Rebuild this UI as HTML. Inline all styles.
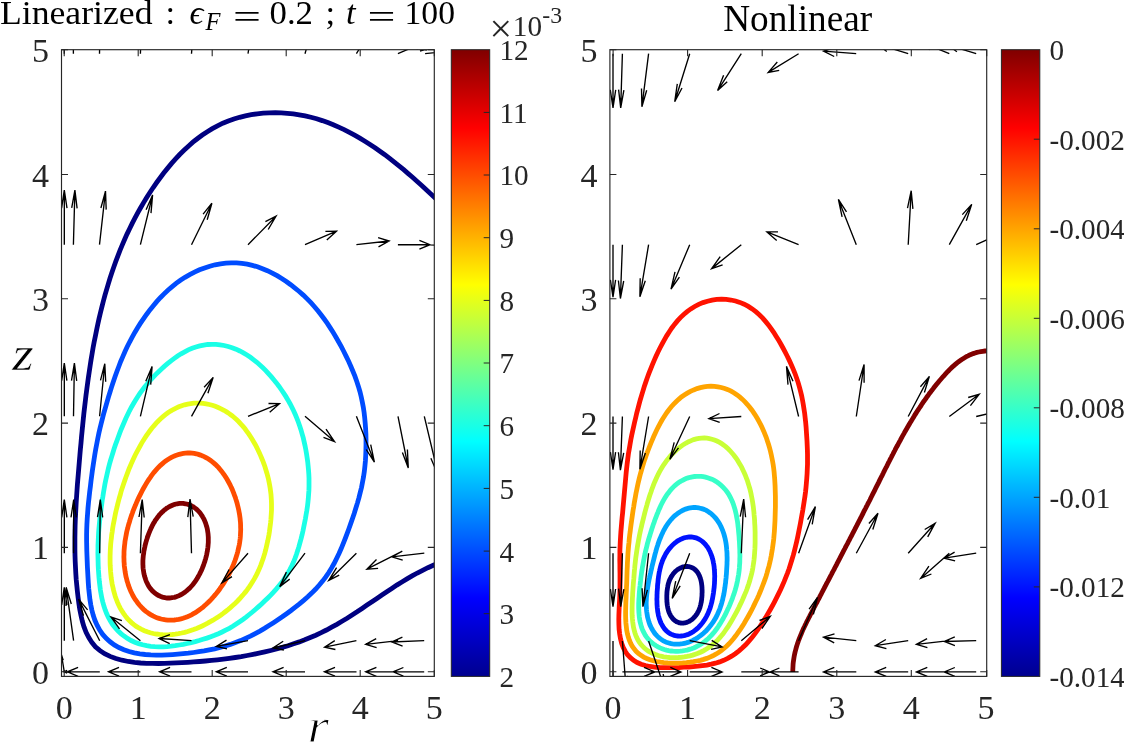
<!DOCTYPE html>
<html><head><meta charset="utf-8"><title>Linearized vs Nonlinear</title>
<style>html,body{margin:0;padding:0;background:#fff}svg{display:block}</style></head>
<body>
<svg width="1124" height="743" viewBox="0 0 1124 743">
<defs>
<linearGradient id="jet" x1="0" y1="1" x2="0" y2="0"><stop offset="0" stop-color="#00008f"/><stop offset="0.125" stop-color="#0000ff"/><stop offset="0.375" stop-color="#00ffff"/><stop offset="0.625" stop-color="#ffff00"/><stop offset="0.875" stop-color="#ff0000"/><stop offset="1" stop-color="#800000"/></linearGradient>
<clipPath id="cl"><rect x="61.5" y="49.7" width="372.8" height="626.7"/></clipPath>
<clipPath id="cr"><rect x="609.9" y="49.7" width="376.8" height="626.7"/></clipPath>
</defs>
<rect width="1124" height="743" fill="#fff"/>
<g clip-path="url(#cl)" fill="none">
<path d="M438.8,201.4 L434.6,197.5 L430.3,193.5 L426.0,189.5 L421.7,185.5 L417.2,181.5 L412.8,177.5 L408.2,173.6 L403.7,169.7 L399.0,165.9 L394.3,162.1 L389.6,158.4 L384.8,154.7 L379.9,151.2 L375.0,147.7 L370.0,144.4 L364.9,141.2 L359.8,138.1 L354.6,135.1 L349.4,132.3 L344.1,129.6 L338.7,127.1 L333.3,124.7 L327.8,122.6 L322.2,120.6 L316.6,118.8 L310.9,117.3 L305.1,115.9 L299.2,114.8 L293.3,113.9 L287.3,113.3 L281.3,112.9 L275.3,112.7 L269.2,112.8 L263.2,113.2 L257.2,113.8 L251.3,114.7 L245.4,115.9 L239.6,117.3 L233.9,119.0 L228.3,121.0 L222.8,123.2 L217.5,125.8 L212.3,128.6 L207.3,131.7 L202.3,135.0 L197.6,138.5 L192.9,142.2 L188.4,146.2 L184.0,150.3 L179.7,154.5 L175.6,158.9 L171.6,163.4 L167.7,168.1 L163.9,172.8 L160.2,177.7 L156.7,182.5 L153.2,187.5 L149.9,192.5 L146.7,197.5 L143.6,202.6 L140.6,207.8 L137.7,212.9 L134.9,218.2 L132.2,223.4 L129.6,228.8 L127.0,234.1 L124.6,239.5 L122.3,244.9 L120.0,250.4 L117.9,255.9 L115.8,261.4 L113.8,267.0 L111.9,272.6 L110.0,278.2 L108.3,283.9 L106.6,289.6 L104.9,295.3 L103.4,301.0 L101.9,306.8 L100.5,312.5 L99.1,318.4 L97.8,324.2 L96.6,330.0 L95.4,335.9 L94.2,341.8 L93.1,347.6 L92.1,353.6 L91.1,359.5 L90.2,365.4 L89.3,371.3 L88.4,377.3 L87.6,383.3 L86.8,389.2 L86.0,395.2 L85.3,401.2 L84.6,407.1 L83.9,413.1 L83.3,419.1 L82.7,425.1 L82.1,431.0 L81.5,437.0 L81.0,443.0 L80.4,448.9 L79.9,454.9 L79.4,460.8 L78.9,466.8 L78.4,472.7 L77.9,478.6 L77.4,484.5 L77.0,490.4 L76.6,496.4 L76.2,502.3 L75.9,508.2 L75.6,514.1 L75.3,520.0 L75.1,525.9 L75.0,531.8 L74.9,537.7 L74.9,543.7 L74.9,549.6 L75.0,555.5 L75.2,561.5 L75.5,567.5 L75.8,573.4 L76.2,579.4 L76.8,585.4 L77.4,591.5 L78.1,597.5 L78.9,603.6 L79.8,609.7 L81.0,615.6 L82.4,621.5 L84.1,627.1 L86.2,632.6 L88.8,637.6 L91.8,642.4 L95.4,646.7 L99.7,650.4 L104.6,653.7 L110.1,656.4 L115.9,658.5 L122.0,660.2 L128.2,661.5 L134.4,662.4 L140.6,663.0 L146.6,663.3 L152.6,663.4 L158.5,663.5 L164.4,663.4 L170.2,663.2 L176.0,662.9 L181.9,662.6 L187.8,662.3 L193.7,661.9 L199.6,661.5 L205.5,661.0 L211.5,660.4 L217.4,659.8 L223.4,659.1 L229.3,658.3 L235.3,657.5 L241.2,656.6 L247.2,655.5 L253.1,654.4 L259.0,653.2 L264.8,651.9 L270.7,650.5 L276.5,649.0 L282.2,647.4 L288.0,645.7 L293.6,643.8 L299.3,641.9 L304.8,639.8 L310.3,637.5 L315.8,635.2 L321.2,632.7 L326.5,630.0 L331.7,627.2 L336.9,624.3 L342.0,621.3 L347.1,618.2 L352.1,615.0 L357.1,611.8 L362.1,608.4 L367.0,605.1 L372.0,601.7 L376.9,598.4 L381.9,595.0 L386.8,591.7 L391.8,588.4 L396.8,585.1 L401.9,582.0 L407.0,578.9 L412.1,575.9 L417.3,573.0 L422.6,570.3 L427.9,567.7 L433.3,565.2 L438.9,563.0" stroke="#000080" stroke-width="4.8"/>
<path d="M231.2,262.9 L236.6,262.9 L241.9,263.4 L247.2,264.2 L252.4,265.4 L257.5,266.8 L262.5,268.7 L267.4,270.7 L272.3,273.1 L277.1,275.7 L281.7,278.5 L286.3,281.5 L290.7,284.7 L295.0,288.1 L299.2,291.5 L303.3,295.1 L307.2,298.9 L310.9,302.7 L314.5,306.7 L317.9,310.8 L321.2,315.0 L324.4,319.3 L327.5,323.6 L330.4,328.1 L333.2,332.6 L336.0,337.3 L338.7,342.0 L341.3,346.7 L343.8,351.5 L346.2,356.4 L348.6,361.3 L350.8,366.2 L352.9,371.2 L354.9,376.2 L356.7,381.3 L358.4,386.4 L359.9,391.5 L361.2,396.7 L362.3,401.9 L363.3,407.2 L364.1,412.5 L364.7,417.8 L365.2,423.2 L365.6,428.6 L365.9,434.0 L366.0,439.4 L366.0,444.8 L365.9,450.2 L365.7,455.6 L365.4,461.0 L364.9,466.3 L364.3,471.7 L363.5,477.0 L362.5,482.2 L361.5,487.5 L360.2,492.7 L358.9,497.9 L357.4,503.1 L355.8,508.2 L354.2,513.4 L352.5,518.5 L350.7,523.6 L348.9,528.7 L347.0,533.8 L345.1,538.8 L343.1,543.8 L341.1,548.8 L338.9,553.7 L336.6,558.5 L334.2,563.3 L331.6,567.9 L328.8,572.5 L325.8,576.9 L322.6,581.1 L319.1,585.3 L315.5,589.3 L311.7,593.1 L307.8,596.8 L303.7,600.4 L299.5,603.9 L295.3,607.2 L291.0,610.5 L286.6,613.7 L282.3,616.8 L277.9,619.8 L273.5,622.7 L269.0,625.6 L264.5,628.4 L259.9,631.1 L255.2,633.6 L250.4,636.1 L245.5,638.4 L240.6,640.6 L235.5,642.5 L230.3,644.4 L225.1,646.0 L219.9,647.5 L214.6,648.8 L209.3,649.9 L204.1,650.9 L198.8,651.7 L193.6,652.5 L188.3,653.2 L183.1,653.7 L177.8,654.2 L172.5,654.6 L167.2,654.9 L161.8,655.1 L156.3,655.1 L150.8,654.9 L145.3,654.5 L139.8,653.8 L134.3,652.8 L129.0,651.5 L123.9,649.7 L118.9,647.5 L114.3,644.9 L110.1,641.8 L106.2,638.3 L102.7,634.4 L99.7,630.1 L97.2,625.5 L95.0,620.6 L93.3,615.5 L91.9,610.3 L90.8,604.9 L89.9,599.4 L89.3,593.9 L88.7,588.5 L88.3,583.0 L88.0,577.6 L87.7,572.2 L87.4,566.9 L87.2,561.6 L87.0,556.3 L86.8,551.0 L86.7,545.7 L86.6,540.4 L86.6,535.0 L86.7,529.7 L86.9,524.3 L87.2,518.9 L87.6,513.4 L88.0,508.0 L88.5,502.6 L89.1,497.2 L89.7,491.8 L90.4,486.4 L91.0,481.1 L91.7,475.7 L92.4,470.4 L93.2,465.2 L94.0,459.9 L94.8,454.7 L95.7,449.4 L96.7,444.1 L97.7,438.9 L98.8,433.6 L100.0,428.3 L101.3,423.0 L102.6,417.8 L104.0,412.5 L105.5,407.3 L107.0,402.1 L108.5,396.9 L110.1,391.7 L111.7,386.6 L113.4,381.5 L115.1,376.5 L116.9,371.5 L118.8,366.5 L120.7,361.5 L122.8,356.6 L124.9,351.7 L127.2,346.8 L129.6,342.0 L132.2,337.2 L134.8,332.4 L137.6,327.7 L140.5,323.1 L143.6,318.6 L146.7,314.2 L149.9,309.9 L153.3,305.7 L156.7,301.6 L160.3,297.7 L164.1,293.9 L167.9,290.2 L171.9,286.8 L176.1,283.4 L180.4,280.3 L185.0,277.3 L189.7,274.6 L194.5,272.1 L199.5,269.8 L204.6,267.9 L209.8,266.2 L215.1,264.8 L220.5,263.8 L225.9,263.2Z" stroke="#004cff" stroke-width="4.8"/>
<path d="M211.9,344.3 L216.0,344.4 L220.1,344.8 L224.1,345.5 L228.2,346.5 L232.1,347.7 L236.0,349.2 L239.8,351.0 L243.4,352.9 L247.0,355.0 L250.4,357.3 L253.7,359.8 L256.9,362.3 L259.9,365.0 L262.9,367.8 L265.8,370.6 L268.5,373.6 L271.2,376.6 L273.8,379.7 L276.4,382.9 L278.9,386.2 L281.2,389.5 L283.5,392.9 L285.8,396.4 L287.9,399.9 L289.9,403.5 L291.8,407.2 L293.6,410.8 L295.3,414.6 L296.9,418.3 L298.4,422.2 L299.7,426.0 L301.0,429.9 L302.1,433.8 L303.2,437.7 L304.1,441.6 L305.0,445.6 L305.8,449.6 L306.5,453.6 L307.1,457.7 L307.7,461.8 L308.1,465.8 L308.5,469.9 L308.8,474.0 L309.0,478.2 L309.0,482.3 L309.0,486.4 L308.9,490.4 L308.6,494.5 L308.3,498.6 L307.9,502.6 L307.4,506.7 L306.8,510.7 L306.1,514.7 L305.4,518.7 L304.6,522.7 L303.8,526.7 L303.0,530.7 L302.1,534.7 L301.1,538.7 L300.0,542.7 L298.9,546.7 L297.7,550.6 L296.4,554.5 L295.0,558.3 L293.5,562.1 L291.8,565.8 L290.0,569.4 L288.0,573.0 L285.9,576.4 L283.6,579.8 L281.2,583.1 L278.6,586.3 L276.0,589.4 L273.3,592.4 L270.5,595.3 L267.6,598.2 L264.6,601.1 L261.6,603.9 L258.6,606.6 L255.6,609.3 L252.4,612.0 L249.3,614.5 L246.1,617.1 L242.9,619.5 L239.6,621.8 L236.2,624.1 L232.8,626.3 L229.3,628.3 L225.7,630.2 L222.1,632.0 L218.4,633.7 L214.6,635.3 L210.8,636.7 L206.9,638.1 L203.0,639.3 L199.1,640.5 L195.2,641.6 L191.2,642.6 L187.2,643.5 L183.3,644.3 L179.3,645.0 L175.2,645.7 L171.2,646.2 L167.1,646.6 L163.0,646.8 L158.9,646.8 L154.8,646.7 L150.7,646.3 L146.7,645.7 L142.6,644.8 L138.7,643.6 L134.8,642.2 L131.1,640.5 L127.5,638.4 L124.1,636.1 L120.9,633.6 L117.9,630.7 L115.1,627.7 L112.6,624.5 L110.4,621.0 L108.4,617.5 L106.7,613.8 L105.2,610.0 L103.9,606.1 L102.8,602.1 L101.8,598.1 L101.1,594.1 L100.4,590.1 L99.9,586.0 L99.4,581.9 L99.0,577.8 L98.7,573.8 L98.4,569.7 L98.2,565.6 L98.1,561.5 L98.0,557.4 L97.9,553.3 L98.0,549.3 L98.0,545.2 L98.2,541.1 L98.4,537.0 L98.6,533.0 L98.9,528.9 L99.3,524.8 L99.7,520.8 L100.1,516.7 L100.6,512.6 L101.1,508.6 L101.7,504.5 L102.2,500.4 L102.9,496.4 L103.5,492.3 L104.2,488.3 L104.9,484.3 L105.7,480.3 L106.6,476.3 L107.5,472.3 L108.4,468.3 L109.4,464.4 L110.5,460.5 L111.7,456.6 L112.9,452.7 L114.1,448.8 L115.4,444.9 L116.8,441.1 L118.2,437.2 L119.6,433.4 L121.1,429.5 L122.7,425.7 L124.3,422.0 L125.9,418.2 L127.7,414.5 L129.5,410.8 L131.4,407.2 L133.4,403.7 L135.5,400.2 L137.7,396.7 L139.9,393.4 L142.3,390.1 L144.8,386.8 L147.4,383.7 L150.0,380.6 L152.8,377.6 L155.6,374.6 L158.6,371.7 L161.5,368.9 L164.6,366.1 L167.8,363.4 L171.0,360.8 L174.3,358.4 L177.6,356.0 L181.1,353.8 L184.7,351.8 L188.3,349.9 L192.1,348.3 L195.9,347.0 L199.8,345.9 L203.8,345.1 L207.8,344.5Z" stroke="#1affe6" stroke-width="4.8"/>
<path d="M196.9,403.1 L200.0,403.2 L203.1,403.4 L206.2,403.8 L209.3,404.5 L212.3,405.3 L215.3,406.3 L218.2,407.5 L221.1,408.8 L223.9,410.3 L226.6,411.9 L229.2,413.6 L231.7,415.5 L234.2,417.5 L236.5,419.6 L238.8,421.8 L240.9,424.1 L243.0,426.4 L245.0,428.8 L246.8,431.3 L248.7,433.9 L250.4,436.5 L252.0,439.1 L253.6,441.8 L255.2,444.5 L256.6,447.2 L258.0,450.0 L259.3,452.8 L260.6,455.6 L261.8,458.5 L263.0,461.4 L264.1,464.3 L265.1,467.2 L266.0,470.2 L266.9,473.2 L267.7,476.2 L268.5,479.2 L269.1,482.2 L269.7,485.3 L270.2,488.4 L270.6,491.4 L271.0,494.5 L271.2,497.7 L271.4,500.8 L271.5,503.9 L271.5,507.0 L271.5,510.1 L271.3,513.3 L271.1,516.4 L270.9,519.5 L270.6,522.6 L270.2,525.7 L269.8,528.8 L269.4,531.9 L268.9,535.0 L268.3,538.1 L267.7,541.1 L267.0,544.1 L266.3,547.2 L265.6,550.2 L264.8,553.2 L263.9,556.1 L263.0,559.1 L261.9,562.0 L260.9,564.9 L259.7,567.8 L258.5,570.6 L257.2,573.4 L255.8,576.2 L254.3,578.9 L252.7,581.6 L251.0,584.2 L249.3,586.8 L247.5,589.4 L245.6,591.9 L243.6,594.3 L241.5,596.7 L239.4,599.0 L237.3,601.2 L235.0,603.4 L232.7,605.5 L230.4,607.6 L228.0,609.6 L225.6,611.5 L223.2,613.4 L220.7,615.2 L218.1,616.9 L215.6,618.6 L213.0,620.2 L210.3,621.7 L207.7,623.2 L204.9,624.6 L202.2,626.0 L199.4,627.2 L196.5,628.4 L193.6,629.5 L190.7,630.5 L187.7,631.5 L184.7,632.3 L181.6,633.0 L178.5,633.6 L175.3,634.1 L172.2,634.5 L169.0,634.7 L165.8,634.8 L162.7,634.7 L159.5,634.4 L156.4,634.0 L153.3,633.5 L150.3,632.7 L147.3,631.8 L144.4,630.7 L141.6,629.4 L138.9,628.0 L136.3,626.4 L133.9,624.6 L131.5,622.6 L129.3,620.5 L127.2,618.3 L125.3,615.9 L123.5,613.4 L121.8,610.8 L120.2,608.1 L118.8,605.3 L117.5,602.4 L116.4,599.5 L115.3,596.5 L114.4,593.4 L113.6,590.4 L112.9,587.3 L112.2,584.2 L111.7,581.0 L111.2,577.9 L110.9,574.8 L110.6,571.7 L110.4,568.6 L110.2,565.5 L110.1,562.4 L110.1,559.3 L110.1,556.2 L110.2,553.2 L110.3,550.1 L110.5,547.0 L110.7,544.0 L111.0,540.9 L111.4,537.9 L111.7,534.8 L112.2,531.8 L112.6,528.7 L113.1,525.6 L113.7,522.5 L114.3,519.5 L114.9,516.4 L115.5,513.3 L116.2,510.2 L117.0,507.2 L117.7,504.1 L118.5,501.0 L119.3,498.0 L120.2,495.0 L121.0,491.9 L121.9,488.9 L122.9,486.0 L123.9,483.0 L124.9,480.1 L125.9,477.2 L127.0,474.3 L128.1,471.4 L129.2,468.5 L130.4,465.7 L131.6,462.9 L132.9,460.1 L134.2,457.3 L135.5,454.5 L136.9,451.8 L138.4,449.1 L139.9,446.3 L141.4,443.6 L143.0,440.9 L144.7,438.3 L146.4,435.7 L148.2,433.1 L150.1,430.5 L152.0,428.0 L154.1,425.6 L156.2,423.2 L158.3,421.0 L160.6,418.8 L163.0,416.7 L165.4,414.7 L167.9,412.8 L170.5,411.1 L173.2,409.5 L176.0,408.1 L178.8,406.8 L181.7,405.7 L184.6,404.8 L187.7,404.1 L190.7,403.6 L193.8,403.2Z" stroke="#e6ff1a" stroke-width="4.8"/>
<path d="M187.7,453.0 L189.9,453.0 L192.1,453.1 L194.2,453.4 L196.3,453.8 L198.4,454.4 L200.5,455.1 L202.6,455.9 L204.6,456.8 L206.5,457.9 L208.5,459.0 L210.3,460.3 L212.1,461.6 L213.9,463.1 L215.6,464.6 L217.2,466.2 L218.8,467.9 L220.3,469.7 L221.7,471.4 L223.1,473.3 L224.4,475.2 L225.7,477.1 L226.9,479.0 L228.0,481.0 L229.1,483.0 L230.2,485.0 L231.1,487.1 L232.1,489.1 L232.9,491.1 L233.7,493.2 L234.5,495.3 L235.3,497.3 L235.9,499.4 L236.6,501.5 L237.2,503.6 L237.7,505.7 L238.2,507.8 L238.7,509.9 L239.1,512.1 L239.5,514.2 L239.8,516.3 L240.1,518.5 L240.3,520.7 L240.5,522.9 L240.6,525.1 L240.6,527.3 L240.7,529.5 L240.6,531.7 L240.5,534.0 L240.4,536.2 L240.2,538.5 L239.9,540.7 L239.6,542.9 L239.2,545.2 L238.7,547.4 L238.2,549.6 L237.7,551.8 L237.1,554.0 L236.4,556.2 L235.7,558.4 L235.0,560.5 L234.2,562.6 L233.4,564.7 L232.5,566.7 L231.6,568.8 L230.7,570.8 L229.7,572.8 L228.7,574.7 L227.6,576.6 L226.5,578.6 L225.4,580.4 L224.3,582.3 L223.1,584.1 L221.9,585.9 L220.6,587.7 L219.4,589.5 L218.1,591.2 L216.7,593.0 L215.3,594.7 L213.9,596.3 L212.5,598.0 L211.0,599.6 L209.4,601.2 L207.8,602.8 L206.2,604.3 L204.5,605.8 L202.8,607.3 L201.0,608.7 L199.2,610.0 L197.4,611.3 L195.4,612.6 L193.5,613.7 L191.5,614.8 L189.4,615.8 L187.4,616.7 L185.2,617.5 L183.1,618.2 L180.9,618.8 L178.7,619.3 L176.5,619.7 L174.3,620.0 L172.1,620.1 L169.9,620.2 L167.7,620.1 L165.5,619.8 L163.3,619.5 L161.1,619.0 L159.0,618.4 L156.9,617.7 L154.9,616.9 L152.9,615.9 L151.0,614.8 L149.1,613.7 L147.3,612.4 L145.5,611.1 L143.8,609.6 L142.2,608.1 L140.7,606.5 L139.2,604.8 L137.8,603.0 L136.5,601.2 L135.2,599.4 L134.0,597.4 L132.9,595.5 L131.9,593.5 L130.9,591.5 L130.0,589.4 L129.2,587.3 L128.4,585.2 L127.8,583.1 L127.1,581.0 L126.6,578.8 L126.0,576.7 L125.6,574.5 L125.2,572.3 L124.9,570.1 L124.6,567.9 L124.3,565.7 L124.2,563.5 L124.0,561.3 L124.0,559.1 L123.9,556.9 L124.0,554.7 L124.0,552.4 L124.1,550.2 L124.3,548.0 L124.5,545.8 L124.8,543.6 L125.0,541.3 L125.4,539.1 L125.8,536.9 L126.2,534.7 L126.6,532.5 L127.1,530.3 L127.7,528.2 L128.2,526.0 L128.8,523.9 L129.5,521.7 L130.1,519.6 L130.8,517.5 L131.5,515.4 L132.3,513.3 L133.0,511.2 L133.8,509.2 L134.6,507.1 L135.5,505.1 L136.3,503.1 L137.2,501.1 L138.1,499.1 L139.0,497.1 L140.0,495.1 L141.0,493.1 L142.0,491.2 L143.0,489.2 L144.1,487.3 L145.2,485.3 L146.3,483.4 L147.5,481.5 L148.7,479.6 L150.0,477.8 L151.3,475.9 L152.6,474.1 L154.0,472.3 L155.5,470.6 L157.0,468.9 L158.6,467.2 L160.2,465.6 L161.9,464.1 L163.6,462.6 L165.4,461.2 L167.2,459.9 L169.1,458.7 L171.0,457.6 L173.0,456.6 L175.0,455.7 L177.1,455.0 L179.2,454.3 L181.3,453.8 L183.4,453.4 L185.6,453.1Z" stroke="#ff4d00" stroke-width="4.8"/>
<path d="M180.8,503.4 L182.0,503.4 L183.2,503.4 L184.3,503.6 L185.5,503.8 L186.7,504.0 L187.9,504.3 L189.0,504.7 L190.1,505.2 L191.2,505.7 L192.3,506.3 L193.4,506.9 L194.4,507.6 L195.4,508.3 L196.4,509.1 L197.3,510.0 L198.2,510.9 L199.1,511.8 L199.9,512.8 L200.7,513.8 L201.4,514.9 L202.2,516.0 L202.8,517.1 L203.5,518.3 L204.1,519.5 L204.6,520.7 L205.1,521.9 L205.6,523.1 L206.0,524.4 L206.4,525.7 L206.8,527.0 L207.1,528.2 L207.4,529.5 L207.6,530.8 L207.8,532.1 L208.0,533.4 L208.1,534.7 L208.2,536.0 L208.3,537.3 L208.3,538.6 L208.3,539.9 L208.3,541.1 L208.3,542.4 L208.2,543.6 L208.1,544.9 L208.0,546.1 L207.9,547.3 L207.7,548.6 L207.5,549.8 L207.4,551.0 L207.1,552.1 L206.9,553.3 L206.7,554.5 L206.4,555.7 L206.1,556.8 L205.8,558.0 L205.5,559.2 L205.1,560.3 L204.8,561.5 L204.4,562.6 L204.0,563.8 L203.6,564.9 L203.2,566.1 L202.7,567.2 L202.3,568.4 L201.8,569.5 L201.3,570.7 L200.7,571.8 L200.2,572.9 L199.6,574.1 L199.0,575.2 L198.4,576.3 L197.7,577.5 L197.1,578.6 L196.4,579.7 L195.6,580.8 L194.9,581.8 L194.1,582.9 L193.3,584.0 L192.5,585.0 L191.6,586.0 L190.7,587.0 L189.8,588.0 L188.8,588.9 L187.8,589.8 L186.8,590.7 L185.8,591.5 L184.8,592.3 L183.7,593.0 L182.6,593.7 L181.5,594.4 L180.3,595.0 L179.2,595.6 L178.0,596.1 L176.8,596.5 L175.7,596.9 L174.5,597.3 L173.2,597.5 L172.0,597.7 L170.8,597.9 L169.6,598.0 L168.4,598.0 L167.2,598.0 L166.0,597.8 L164.8,597.7 L163.7,597.4 L162.5,597.1 L161.4,596.7 L160.3,596.3 L159.2,595.8 L158.1,595.3 L157.1,594.6 L156.1,594.0 L155.1,593.2 L154.1,592.5 L153.2,591.6 L152.3,590.8 L151.5,589.8 L150.7,588.9 L149.9,587.8 L149.2,586.8 L148.5,585.7 L147.9,584.6 L147.3,583.4 L146.7,582.3 L146.2,581.1 L145.7,579.8 L145.3,578.6 L144.9,577.3 L144.5,576.1 L144.2,574.8 L143.9,573.5 L143.7,572.2 L143.5,570.9 L143.3,569.6 L143.1,568.3 L143.0,567.0 L143.0,565.7 L142.9,564.4 L142.9,563.1 L142.9,561.8 L142.9,560.6 L143.0,559.3 L143.1,558.0 L143.2,556.8 L143.3,555.5 L143.5,554.3 L143.7,553.1 L143.8,551.8 L144.0,550.6 L144.3,549.4 L144.5,548.2 L144.8,547.0 L145.0,545.8 L145.3,544.6 L145.6,543.5 L145.9,542.3 L146.3,541.1 L146.6,539.9 L147.0,538.8 L147.4,537.6 L147.7,536.4 L148.2,535.3 L148.6,534.1 L149.0,533.0 L149.5,531.8 L150.0,530.6 L150.5,529.5 L151.0,528.3 L151.6,527.2 L152.1,526.0 L152.7,524.9 L153.3,523.8 L154.0,522.6 L154.7,521.5 L155.3,520.4 L156.1,519.3 L156.8,518.3 L157.6,517.2 L158.4,516.2 L159.2,515.1 L160.1,514.2 L161.0,513.2 L161.9,512.3 L162.9,511.4 L163.8,510.5 L164.8,509.7 L165.9,508.9 L166.9,508.1 L168.0,507.5 L169.1,506.8 L170.2,506.2 L171.3,505.7 L172.4,505.2 L173.6,504.7 L174.8,504.3 L176.0,504.0 L177.2,503.8 L178.3,503.6 L179.6,503.4Z" stroke="#800000" stroke-width="4.8"/>
<path d="M64.3,244.7 L64.3,190.1 M61.6,208.1 L64.3,190.1 L67.0,208.1 M73.4,244.7 L74.9,190.1 M71.7,207.9 L74.9,190.1 L77.1,208.3 M99.5,244.7 L105.5,191.1 M100.9,208.0 L105.5,191.1 L106.2,209.6 M140.4,244.7 L152.6,195.0 M146.1,209.7 L152.6,195.0 L151.0,213.1 M191.5,244.7 L211.9,203.2 M203.1,214.1 L211.9,203.2 L207.2,219.7 M248.0,244.7 L276.0,216.2 M265.4,221.7 L276.0,216.2 L268.2,229.5 M305.0,244.7 L336.5,231.2 M325.4,231.3 L336.5,231.2 L326.8,240.0 M356.4,244.7 L389.1,241.0 M378.1,237.7 L389.1,241.0 L378.5,246.8 M397.9,244.7 L430.0,244.7 M419.4,240.3 L430.0,244.7 L419.4,249.1 M425.1,244.7 L457.0,246.0 M446.5,241.2 L457.0,246.0 L446.4,250.0 M64.3,416.3 L64.3,363.2 M61.7,380.7 L64.3,363.2 L66.9,380.7 M73.5,416.3 L74.4,363.2 M71.5,380.6 L74.4,363.2 L76.7,380.8 M99.6,416.3 L104.8,363.7 M100.5,380.3 L104.8,363.7 L105.7,381.8 M140.4,416.3 L152.1,366.5 M145.8,381.3 L152.1,366.5 L150.7,384.6 M191.5,416.3 L213.2,377.4 M204.1,387.2 L213.2,377.4 L207.9,393.2 M248.0,416.3 L279.5,403.7 M268.5,403.5 L279.5,403.7 L269.7,412.2 M305.0,416.3 L334.5,441.6 M326.0,429.2 L334.5,441.6 L323.5,437.3 M356.4,416.3 L374.4,462.2 M370.7,444.6 L374.4,462.2 L366.2,449.5 M398.0,416.3 L408.3,468.0 M407.4,449.5 L408.3,468.0 L402.4,452.4 M424.3,416.3 L438.5,476.0 M436.7,454.3 L438.5,476.0 L430.9,458.3 M64.3,553.2 L64.3,499.6 M61.7,517.3 L64.3,499.6 L66.9,517.3 M73.6,553.2 L73.7,499.6 M71.0,517.3 L73.7,499.6 L76.3,517.3 M99.7,553.2 L100.3,499.6 M97.5,517.2 L100.3,499.6 L102.7,517.4 M140.4,553.2 L142.2,499.6 M139.0,517.0 L142.2,499.6 L144.2,517.5 M191.5,553.2 L190.0,499.1 M187.8,517.2 L190.0,499.1 L193.2,516.7 M248.0,553.2 L221.9,582.9 M232.0,576.7 L221.9,582.9 L229.1,569.5 M305.0,553.2 L279.7,586.6 M289.7,579.1 L279.7,586.6 L286.4,572.1 M356.4,553.2 L328.8,580.4 M339.2,575.2 L328.8,580.4 L336.6,567.6 M398.5,553.2 L366.9,569.2 M378.1,568.3 L366.9,569.2 L376.5,559.5 M424.3,553.2 L391.8,556.9 M402.7,560.2 L391.8,556.9 L402.3,551.2 M64.3,640.7 L64.3,587.4 M61.7,605.0 L64.3,587.4 L66.9,605.0 M73.6,640.7 L66.2,587.4 M66.0,606.0 L66.2,587.4 L71.3,604.0 M99.7,640.7 L78.6,599.1 M83.5,615.8 L78.6,599.1 L87.6,609.9 M140.4,640.7 L111.0,617.0 M119.5,628.9 L111.0,617.0 L121.9,620.7 M191.5,640.7 L159.1,638.5 M169.7,643.7 L159.1,638.5 L169.9,634.7 M248.0,640.7 L216.3,646.4 M227.0,648.9 L216.3,646.4 L226.5,640.1 M305.0,640.7 L273.0,648.0 M283.9,650.0 L273.0,648.0 L283.2,641.2 M356.4,640.7 L324.6,647.2 M335.4,649.5 L324.6,647.2 L334.8,640.6 M398.1,640.7 L365.7,644.4 M376.6,647.7 L365.7,644.4 L376.2,638.7 M424.2,640.7 L391.8,642.0 M402.6,646.1 L391.8,642.0 L402.4,637.1 M64.3,671.8 L61.5,655.0 M61.6,660.9 L61.5,655.0 L63.2,660.2 M73.6,671.8 L64.0,671.8 M67.2,673.1 L64.0,671.8 L67.2,670.5 M99.8,671.8 L67.4,671.8 M78.1,676.3 L67.4,671.8 L78.1,667.3 M140.4,671.8 L108.5,671.8 M119.0,676.2 L108.5,671.8 L119.0,667.4 M191.5,671.8 L159.6,671.8 M170.1,676.2 L159.6,671.8 L170.1,667.4 M248.0,671.8 L216.3,671.8 M226.8,676.2 L216.3,671.8 L226.8,667.4 M305.0,671.8 L273.0,671.8 M283.6,676.2 L273.0,671.8 L283.6,667.4 M356.5,671.8 L324.4,671.8 M335.0,676.2 L324.4,671.8 L335.0,667.4 M398.1,671.8 L365.7,671.8 M376.4,676.3 L365.7,671.8 L376.4,667.3 M424.2,671.8 L393.1,671.8 M403.4,676.1 L393.1,671.8 L403.4,667.5 M64.3,53.7 L64.3,0.0 M61.7,17.7 L64.3,0.0 L66.9,17.7 M73.4,53.7 L72.9,0.0 M70.4,17.8 L72.9,0.0 L75.7,17.7 M99.5,53.7 L100.5,0.0 M97.5,17.6 L100.5,0.0 L102.8,17.9 M140.4,53.7 L142.5,0.0 M139.2,17.4 L142.5,0.0 L144.4,18.0 M191.5,53.7 L195.0,5.0 M191.5,20.6 L195.0,5.0 L196.2,21.6 M248.0,53.7 L255.0,10.0 M250.5,23.5 L255.0,10.0 L254.8,25.4 M305.0,53.7 L315.0,18.0 M309.9,28.4 L315.0,18.0 L313.5,31.2 M356.4,53.7 L372.0,28.0 M365.6,34.3 L372.0,28.0 L368.1,38.6 M397.9,53.7 L425.0,42.0 M415.5,42.1 L425.0,42.0 L416.6,49.6 M420.0,51.0 L428.0,48.5 M425.2,48.2 L428.0,48.5 L425.5,50.4 M425.1,53.7 L440.0,52.0 M435.0,50.5 L440.0,52.0 L435.2,54.6" stroke="#000" stroke-width="1.35"/>
</g>
<path d="M64.2,676.4 v-6.5 M64.2,49.7 v6.5 M61.5,671.7 h6.5 M434.3,671.7 h-6.5 M138.2,676.4 v-6.5 M138.2,49.7 v6.5 M61.5,547.4 h6.5 M434.3,547.4 h-6.5 M212.2,676.4 v-6.5 M212.2,49.7 v6.5 M61.5,423.1 h6.5 M434.3,423.1 h-6.5 M286.2,676.4 v-6.5 M286.2,49.7 v6.5 M61.5,298.8 h6.5 M434.3,298.8 h-6.5 M360.2,676.4 v-6.5 M360.2,49.7 v6.5 M61.5,174.5 h6.5 M434.3,174.5 h-6.5 M434.3,676.4 v-6.5 M434.3,49.7 v6.5 M61.5,49.7 h6.5 M434.3,49.7 h-6.5" stroke="#262626" stroke-width="1.1" fill="none"/>
<rect x="61.5" y="49.7" width="372.8" height="626.7" fill="none" stroke="#262626" stroke-width="1.15"/>
<g clip-path="url(#cr)" fill="none">
<path d="M721.5,299.2 L726.2,299.4 L730.9,300.0 L735.5,301.0 L739.9,302.4 L744.2,304.2 L748.3,306.4 L752.2,308.9 L755.8,311.7 L759.3,314.7 L762.5,317.9 L765.5,321.4 L768.4,324.9 L771.1,328.6 L773.7,332.3 L776.1,336.2 L778.5,340.1 L780.8,344.0 L783.0,348.0 L785.2,352.1 L787.3,356.2 L789.3,360.4 L791.3,364.7 L793.1,368.9 L794.9,373.3 L796.5,377.7 L798.0,382.1 L799.3,386.6 L800.5,391.1 L801.6,395.6 L802.5,400.1 L803.3,404.6 L804.0,409.2 L804.7,413.7 L805.2,418.2 L805.7,422.7 L806.1,427.2 L806.4,431.8 L806.7,436.3 L807.0,440.9 L807.2,445.5 L807.4,450.1 L807.5,454.8 L807.5,459.5 L807.5,464.2 L807.3,468.9 L807.1,473.6 L806.8,478.2 L806.4,482.9 L806.0,487.5 L805.5,492.1 L804.9,496.6 L804.2,501.1 L803.5,505.6 L802.8,510.1 L802.0,514.5 L801.2,518.9 L800.4,523.4 L799.5,527.9 L798.6,532.4 L797.7,536.9 L796.7,541.4 L795.6,546.0 L794.5,550.6 L793.3,555.2 L791.9,559.7 L790.5,564.3 L789.1,568.7 L787.5,573.1 L785.8,577.4 L784.1,581.7 L782.3,585.8 L780.4,589.9 L778.5,593.9 L776.5,597.9 L774.5,601.8 L772.4,605.8 L770.2,609.7 L767.9,613.6 L765.6,617.6 L763.2,621.5 L760.6,625.5 L758.0,629.5 L755.2,633.4 L752.2,637.2 L749.1,640.9 L745.9,644.5 L742.5,647.8 L739.0,650.9 L735.3,653.7 L731.6,656.2 L727.7,658.4 L723.7,660.3 L719.6,661.9 L715.4,663.2 L711.2,664.2 L706.9,665.1 L702.4,665.7 L697.9,666.2 L693.3,666.6 L688.6,667.0 L683.9,667.2 L679.0,667.5 L674.1,667.6 L669.2,667.7 L664.2,667.7 L659.3,667.5 L654.5,667.1 L649.9,666.5 L645.4,665.5 L641.1,664.2 L637.2,662.5 L633.6,660.3 L630.4,657.7 L627.5,654.7 L625.2,651.2 L623.2,647.4 L621.6,643.2 L620.5,638.8 L619.7,634.1 L619.1,629.3 L618.9,624.4 L618.8,619.4 L618.9,614.5 L619.1,609.6 L619.3,604.8 L619.6,600.1 L619.8,595.5 L619.9,591.0 L620.0,586.5 L620.0,582.1 L620.0,577.7 L620.0,573.3 L619.9,568.9 L619.9,564.5 L619.8,559.9 L619.9,555.4 L619.9,550.7 L620.1,546.0 L620.3,541.3 L620.6,536.5 L620.9,531.7 L621.3,527.0 L621.7,522.3 L622.1,517.6 L622.6,512.9 L623.0,508.3 L623.4,503.8 L623.8,499.3 L624.2,494.8 L624.6,490.3 L625.0,485.9 L625.4,481.4 L625.8,476.9 L626.2,472.4 L626.7,467.8 L627.2,463.2 L627.8,458.6 L628.4,453.9 L629.2,449.3 L630.0,444.6 L630.8,439.9 L631.7,435.3 L632.7,430.7 L633.7,426.2 L634.7,421.7 L635.8,417.2 L636.8,412.8 L638.0,408.4 L639.1,404.1 L640.3,399.7 L641.6,395.4 L642.9,391.1 L644.2,386.7 L645.7,382.4 L647.2,378.0 L648.8,373.7 L650.5,369.3 L652.3,364.9 L654.1,360.6 L656.0,356.3 L658.0,352.0 L660.1,347.8 L662.3,343.6 L664.5,339.6 L666.8,335.6 L669.3,331.7 L671.8,328.0 L674.5,324.4 L677.4,320.9 L680.4,317.6 L683.7,314.5 L687.1,311.6 L690.8,308.9 L694.7,306.5 L698.7,304.4 L703.0,302.6 L707.5,301.2 L712.1,300.1 L716.7,299.4Z" stroke="#ff1200" stroke-width="4.8"/>
<path d="M710.9,386.2 L714.4,386.3 L717.9,386.8 L721.3,387.5 L724.7,388.5 L728.0,389.7 L731.1,391.2 L734.2,393.0 L737.1,394.9 L739.9,397.1 L742.5,399.4 L745.0,401.9 L747.4,404.5 L749.7,407.2 L751.8,410.0 L753.8,412.9 L755.7,415.8 L757.5,418.8 L759.2,421.8 L760.8,424.9 L762.3,428.0 L763.7,431.2 L765.0,434.4 L766.3,437.6 L767.4,440.9 L768.5,444.2 L769.5,447.6 L770.4,451.0 L771.2,454.4 L771.9,457.9 L772.6,461.4 L773.2,464.9 L773.7,468.5 L774.1,472.0 L774.4,475.6 L774.7,479.1 L774.9,482.6 L775.1,486.2 L775.2,489.7 L775.3,493.1 L775.4,496.6 L775.4,500.0 L775.4,503.5 L775.4,506.9 L775.3,510.3 L775.2,513.7 L775.1,517.2 L775.0,520.6 L774.8,524.1 L774.6,527.6 L774.4,531.1 L774.1,534.6 L773.8,538.2 L773.4,541.7 L772.9,545.3 L772.4,548.9 L771.8,552.4 L771.2,556.0 L770.5,559.5 L769.7,563.0 L768.9,566.4 L767.9,569.8 L767.0,573.1 L766.0,576.4 L764.9,579.7 L763.7,582.9 L762.5,586.0 L761.3,589.2 L760.0,592.3 L758.7,595.4 L757.3,598.5 L755.8,601.5 L754.3,604.6 L752.8,607.8 L751.2,610.9 L749.5,614.0 L747.7,617.2 L745.9,620.3 L744.1,623.5 L742.1,626.6 L740.1,629.7 L738.0,632.7 L735.9,635.6 L733.6,638.5 L731.3,641.2 L729.0,643.8 L726.5,646.2 L723.9,648.5 L721.3,650.6 L718.6,652.5 L715.8,654.2 L712.9,655.8 L709.9,657.1 L706.8,658.4 L703.6,659.4 L700.4,660.3 L697.0,661.0 L693.5,661.7 L690.0,662.2 L686.4,662.6 L682.7,662.9 L679.0,663.1 L675.2,663.1 L671.4,663.1 L667.7,662.9 L663.9,662.6 L660.3,662.2 L656.7,661.5 L653.2,660.7 L649.9,659.7 L646.7,658.5 L643.7,657.1 L641.0,655.4 L638.4,653.4 L636.1,651.3 L634.1,648.9 L632.2,646.2 L630.7,643.4 L629.4,640.3 L628.3,637.1 L627.4,633.7 L626.7,630.2 L626.3,626.6 L625.9,623.0 L625.7,619.2 L625.6,615.5 L625.6,611.8 L625.7,608.1 L625.8,604.4 L625.9,600.8 L626.1,597.2 L626.2,593.7 L626.4,590.2 L626.5,586.8 L626.7,583.4 L626.8,580.0 L626.9,576.7 L627.0,573.3 L627.1,570.0 L627.3,566.6 L627.4,563.2 L627.6,559.8 L627.8,556.3 L628.0,552.8 L628.3,549.3 L628.6,545.8 L629.0,542.2 L629.3,538.6 L629.7,535.0 L630.2,531.4 L630.6,527.8 L631.1,524.2 L631.6,520.7 L632.1,517.2 L632.6,513.7 L633.1,510.2 L633.7,506.8 L634.2,503.4 L634.8,500.0 L635.4,496.7 L636.0,493.3 L636.7,490.0 L637.4,486.6 L638.1,483.3 L638.9,479.9 L639.7,476.6 L640.6,473.2 L641.6,469.8 L642.6,466.4 L643.6,463.0 L644.7,459.6 L645.9,456.2 L647.1,452.9 L648.4,449.5 L649.7,446.2 L651.0,442.9 L652.4,439.6 L653.8,436.3 L655.2,433.2 L656.7,430.0 L658.3,426.9 L659.9,423.8 L661.6,420.8 L663.3,417.9 L665.2,415.0 L667.1,412.2 L669.2,409.4 L671.3,406.7 L673.7,404.1 L676.1,401.7 L678.7,399.3 L681.4,397.0 L684.3,395.0 L687.3,393.1 L690.4,391.4 L693.7,389.9 L697.0,388.6 L700.4,387.6 L703.9,386.9 L707.4,386.4Z" stroke="#ffa400" stroke-width="4.8"/>
<path d="M704.2,438.0 L706.8,438.2 L709.4,438.6 L711.9,439.2 L714.4,440.0 L716.9,441.0 L719.2,442.2 L721.6,443.6 L723.8,445.2 L726.0,446.9 L728.1,448.8 L730.1,450.8 L732.0,453.0 L733.9,455.2 L735.6,457.5 L737.3,459.9 L738.8,462.4 L740.3,464.9 L741.7,467.4 L742.9,470.0 L744.1,472.6 L745.3,475.2 L746.3,477.8 L747.3,480.4 L748.1,483.0 L748.9,485.6 L749.7,488.2 L750.4,490.9 L751.0,493.5 L751.5,496.1 L752.0,498.7 L752.5,501.4 L752.9,504.1 L753.3,506.7 L753.6,509.4 L753.9,512.2 L754.1,514.9 L754.4,517.7 L754.6,520.5 L754.7,523.3 L754.9,526.1 L755.0,528.9 L755.1,531.8 L755.1,534.6 L755.1,537.5 L755.1,540.4 L755.1,543.2 L755.0,546.1 L754.9,548.9 L754.7,551.7 L754.5,554.5 L754.3,557.3 L754.0,560.0 L753.6,562.8 L753.2,565.5 L752.8,568.1 L752.3,570.8 L751.7,573.4 L751.0,576.1 L750.3,578.7 L749.6,581.3 L748.8,583.8 L747.9,586.4 L747.0,589.0 L746.0,591.6 L744.9,594.1 L743.8,596.7 L742.7,599.3 L741.5,601.9 L740.3,604.4 L739.1,607.0 L737.8,609.6 L736.5,612.1 L735.1,614.7 L733.7,617.2 L732.3,619.7 L730.9,622.1 L729.4,624.5 L727.9,626.9 L726.3,629.2 L724.7,631.5 L723.1,633.7 L721.4,635.8 L719.6,637.9 L717.8,639.9 L715.9,641.7 L714.0,643.5 L711.9,645.2 L709.8,646.8 L707.6,648.3 L705.3,649.7 L703.0,651.0 L700.5,652.2 L698.0,653.3 L695.3,654.2 L692.7,655.1 L689.9,655.8 L687.1,656.4 L684.2,656.9 L681.3,657.3 L678.3,657.5 L675.4,657.6 L672.4,657.6 L669.5,657.5 L666.6,657.2 L663.7,656.8 L660.9,656.2 L658.2,655.5 L655.6,654.6 L653.1,653.6 L650.7,652.4 L648.4,651.1 L646.3,649.6 L644.3,648.0 L642.5,646.2 L640.8,644.3 L639.3,642.2 L638.0,640.0 L636.8,637.7 L635.8,635.3 L634.9,632.7 L634.2,630.1 L633.5,627.4 L633.1,624.6 L632.7,621.8 L632.4,618.9 L632.2,616.0 L632.1,613.1 L632.1,610.1 L632.1,607.2 L632.2,604.2 L632.3,601.3 L632.4,598.4 L632.6,595.5 L632.7,592.7 L632.9,589.8 L633.1,587.1 L633.3,584.3 L633.5,581.6 L633.8,578.9 L634.0,576.2 L634.2,573.5 L634.4,570.8 L634.7,568.2 L634.9,565.6 L635.2,562.9 L635.5,560.3 L635.8,557.6 L636.2,554.9 L636.6,552.2 L637.0,549.5 L637.4,546.7 L637.9,544.0 L638.4,541.2 L638.9,538.4 L639.4,535.6 L640.0,532.8 L640.6,530.0 L641.3,527.2 L641.9,524.4 L642.6,521.6 L643.3,518.8 L644.0,516.0 L644.7,513.2 L645.4,510.5 L646.1,507.8 L646.9,505.1 L647.6,502.5 L648.4,499.9 L649.2,497.3 L650.0,494.7 L650.9,492.2 L651.7,489.7 L652.7,487.1 L653.6,484.7 L654.6,482.2 L655.7,479.7 L656.8,477.3 L658.0,474.8 L659.2,472.4 L660.6,469.9 L662.0,467.5 L663.5,465.1 L665.1,462.8 L666.8,460.4 L668.6,458.2 L670.5,455.9 L672.5,453.8 L674.6,451.7 L676.7,449.7 L679.0,447.8 L681.3,446.1 L683.7,444.4 L686.1,443.0 L688.6,441.7 L691.2,440.6 L693.7,439.6 L696.3,438.9 L699.0,438.4 L701.6,438.1Z" stroke="#c8ff37" stroke-width="4.8"/>
<path d="M698.9,476.3 L701.1,476.4 L703.3,476.7 L705.5,477.1 L707.6,477.7 L709.7,478.4 L711.8,479.2 L713.8,480.2 L715.8,481.3 L717.6,482.5 L719.4,483.9 L721.1,485.3 L722.8,486.9 L724.3,488.5 L725.8,490.2 L727.1,492.0 L728.4,493.9 L729.5,495.8 L730.6,497.8 L731.6,499.9 L732.5,502.0 L733.3,504.1 L734.0,506.2 L734.7,508.4 L735.3,510.6 L735.8,512.8 L736.3,515.0 L736.7,517.2 L737.1,519.4 L737.5,521.6 L737.8,523.9 L738.0,526.1 L738.3,528.3 L738.5,530.5 L738.7,532.7 L738.9,534.9 L739.1,537.1 L739.2,539.3 L739.4,541.5 L739.5,543.6 L739.6,545.8 L739.7,548.0 L739.8,550.2 L739.8,552.4 L739.9,554.6 L739.9,556.8 L739.8,559.0 L739.8,561.3 L739.7,563.5 L739.5,565.7 L739.4,567.9 L739.2,570.1 L738.9,572.4 L738.6,574.6 L738.2,576.8 L737.8,579.0 L737.4,581.2 L736.9,583.4 L736.4,585.7 L735.8,587.8 L735.2,590.0 L734.5,592.2 L733.8,594.4 L733.0,596.5 L732.3,598.6 L731.5,600.7 L730.6,602.8 L729.8,604.9 L728.9,607.0 L727.9,609.0 L727.0,611.1 L726.0,613.1 L725.0,615.1 L724.0,617.0 L722.9,619.0 L721.8,620.9 L720.7,622.8 L719.5,624.6 L718.3,626.5 L717.1,628.3 L715.8,630.0 L714.5,631.7 L713.1,633.4 L711.6,635.1 L710.1,636.7 L708.6,638.2 L706.9,639.7 L705.2,641.1 L703.5,642.4 L701.6,643.7 L699.7,644.9 L697.8,646.0 L695.8,647.0 L693.7,647.9 L691.5,648.7 L689.3,649.4 L687.1,650.1 L684.8,650.5 L682.5,650.9 L680.2,651.2 L677.9,651.3 L675.6,651.3 L673.2,651.2 L670.9,651.0 L668.6,650.6 L666.4,650.1 L664.2,649.5 L662.1,648.7 L660.0,647.9 L658.0,646.9 L656.1,645.8 L654.3,644.6 L652.5,643.3 L650.9,641.9 L649.4,640.4 L647.9,638.8 L646.6,637.1 L645.4,635.4 L644.3,633.5 L643.4,631.6 L642.5,629.7 L641.7,627.7 L641.1,625.6 L640.5,623.5 L640.0,621.4 L639.6,619.2 L639.3,617.0 L639.1,614.8 L638.9,612.5 L638.8,610.3 L638.7,608.0 L638.7,605.7 L638.7,603.4 L638.8,601.1 L638.9,598.8 L639.1,596.6 L639.2,594.3 L639.4,592.0 L639.6,589.7 L639.8,587.4 L640.1,585.2 L640.3,582.9 L640.6,580.7 L640.8,578.4 L641.1,576.2 L641.4,574.0 L641.7,571.7 L642.1,569.5 L642.4,567.3 L642.8,565.2 L643.2,563.0 L643.6,560.8 L644.0,558.7 L644.4,556.5 L644.9,554.4 L645.3,552.2 L645.8,550.1 L646.4,548.0 L646.9,545.9 L647.4,543.7 L648.0,541.6 L648.6,539.5 L649.2,537.4 L649.9,535.3 L650.5,533.2 L651.2,531.1 L651.8,529.0 L652.5,526.9 L653.2,524.7 L654.0,522.6 L654.7,520.5 L655.5,518.4 L656.3,516.3 L657.1,514.2 L658.0,512.1 L658.8,510.0 L659.8,507.9 L660.7,505.8 L661.7,503.8 L662.8,501.7 L663.9,499.7 L665.0,497.8 L666.2,495.9 L667.5,494.0 L668.9,492.2 L670.3,490.4 L671.8,488.7 L673.3,487.1 L674.9,485.6 L676.6,484.2 L678.4,482.8 L680.2,481.6 L682.1,480.5 L684.1,479.5 L686.1,478.6 L688.1,477.9 L690.2,477.3 L692.4,476.8 L694.5,476.5 L696.7,476.3Z" stroke="#37ffc8" stroke-width="4.8"/>
<path d="M695.3,507.5 L696.9,507.6 L698.6,507.8 L700.1,508.2 L701.7,508.6 L703.3,509.1 L704.8,509.7 L706.3,510.4 L707.7,511.3 L709.1,512.2 L710.5,513.2 L711.8,514.2 L713.0,515.4 L714.2,516.6 L715.4,517.9 L716.5,519.3 L717.5,520.7 L718.5,522.2 L719.5,523.7 L720.3,525.3 L721.1,526.9 L721.9,528.6 L722.6,530.3 L723.2,532.0 L723.8,533.7 L724.3,535.5 L724.8,537.3 L725.2,539.1 L725.6,540.9 L725.9,542.7 L726.2,544.5 L726.4,546.3 L726.6,548.1 L726.7,549.9 L726.9,551.7 L727.0,553.5 L727.0,555.3 L727.1,557.0 L727.1,558.8 L727.1,560.6 L727.0,562.3 L727.0,564.0 L726.9,565.8 L726.8,567.5 L726.7,569.2 L726.6,570.9 L726.5,572.6 L726.4,574.3 L726.2,576.0 L726.1,577.7 L725.9,579.3 L725.7,581.0 L725.6,582.7 L725.3,584.4 L725.1,586.0 L724.9,587.7 L724.6,589.4 L724.4,591.0 L724.1,592.7 L723.8,594.4 L723.4,596.1 L723.0,597.7 L722.7,599.4 L722.2,601.1 L721.8,602.7 L721.3,604.4 L720.7,606.1 L720.2,607.7 L719.6,609.4 L718.9,611.0 L718.2,612.7 L717.5,614.3 L716.7,615.9 L715.9,617.5 L715.0,619.1 L714.1,620.6 L713.1,622.2 L712.0,623.7 L711.0,625.1 L709.8,626.6 L708.7,628.0 L707.4,629.4 L706.2,630.7 L704.8,632.0 L703.5,633.2 L702.1,634.4 L700.6,635.6 L699.1,636.6 L697.6,637.7 L696.1,638.6 L694.5,639.5 L692.9,640.3 L691.2,641.1 L689.6,641.8 L687.9,642.4 L686.2,642.9 L684.5,643.3 L682.8,643.7 L681.1,643.9 L679.4,644.1 L677.7,644.2 L676.0,644.2 L674.4,644.1 L672.7,643.9 L671.1,643.6 L669.5,643.2 L668.0,642.8 L666.4,642.2 L665.0,641.6 L663.5,640.8 L662.1,640.0 L660.8,639.1 L659.5,638.1 L658.2,637.0 L657.0,635.9 L655.9,634.7 L654.8,633.4 L653.8,632.0 L652.9,630.6 L652.0,629.1 L651.2,627.5 L650.4,625.9 L649.7,624.3 L649.1,622.6 L648.6,620.8 L648.1,619.1 L647.6,617.3 L647.3,615.5 L647.0,613.6 L646.7,611.8 L646.5,609.9 L646.4,608.1 L646.3,606.2 L646.2,604.3 L646.2,602.4 L646.3,600.6 L646.4,598.7 L646.5,596.9 L646.7,595.0 L646.9,593.2 L647.1,591.4 L647.3,589.7 L647.6,587.9 L647.9,586.1 L648.2,584.4 L648.5,582.7 L648.8,581.0 L649.1,579.4 L649.5,577.7 L649.8,576.1 L650.2,574.4 L650.6,572.8 L650.9,571.2 L651.3,569.6 L651.7,568.0 L652.0,566.4 L652.4,564.8 L652.8,563.3 L653.2,561.7 L653.6,560.1 L654.0,558.4 L654.4,556.8 L654.8,555.2 L655.2,553.6 L655.7,551.9 L656.1,550.3 L656.6,548.6 L657.1,546.9 L657.7,545.3 L658.2,543.6 L658.8,541.9 L659.4,540.2 L660.1,538.5 L660.8,536.8 L661.5,535.1 L662.3,533.4 L663.1,531.7 L664.0,530.0 L664.9,528.4 L665.8,526.8 L666.8,525.2 L667.9,523.6 L669.0,522.1 L670.1,520.7 L671.3,519.3 L672.6,517.9 L673.9,516.6 L675.2,515.4 L676.6,514.3 L678.0,513.2 L679.5,512.2 L681.0,511.3 L682.5,510.5 L684.0,509.8 L685.6,509.1 L687.2,508.6 L688.8,508.2 L690.4,507.9 L692.1,507.6 L693.7,507.5Z" stroke="#00a4ff" stroke-width="4.8"/>
<path d="M691.4,537.0 L692.6,537.1 L693.7,537.3 L694.9,537.6 L696.0,537.9 L697.1,538.3 L698.1,538.8 L699.2,539.3 L700.2,539.9 L701.2,540.6 L702.2,541.3 L703.1,542.1 L704.0,542.9 L704.8,543.8 L705.7,544.7 L706.4,545.7 L707.2,546.7 L707.9,547.8 L708.6,548.9 L709.2,550.1 L709.8,551.2 L710.3,552.4 L710.8,553.7 L711.3,554.9 L711.8,556.2 L712.2,557.4 L712.5,558.7 L712.9,560.0 L713.2,561.4 L713.4,562.7 L713.7,564.0 L713.9,565.3 L714.1,566.6 L714.2,567.9 L714.3,569.3 L714.5,570.6 L714.5,571.9 L714.6,573.2 L714.6,574.4 L714.7,575.7 L714.7,577.0 L714.6,578.3 L714.6,579.5 L714.6,580.7 L714.5,582.0 L714.5,583.2 L714.4,584.4 L714.3,585.6 L714.2,586.8 L714.1,588.0 L713.9,589.2 L713.8,590.4 L713.6,591.6 L713.5,592.8 L713.3,594.0 L713.1,595.2 L712.9,596.4 L712.7,597.5 L712.5,598.7 L712.2,599.9 L712.0,601.1 L711.7,602.3 L711.4,603.5 L711.1,604.7 L710.7,605.9 L710.4,607.1 L710.0,608.3 L709.5,609.5 L709.1,610.7 L708.6,611.9 L708.1,613.1 L707.6,614.3 L707.0,615.5 L706.4,616.6 L705.7,617.8 L705.1,619.0 L704.3,620.1 L703.6,621.2 L702.8,622.3 L702.0,623.4 L701.1,624.5 L700.3,625.5 L699.3,626.5 L698.4,627.5 L697.4,628.4 L696.4,629.3 L695.3,630.1 L694.3,630.9 L693.2,631.7 L692.0,632.4 L690.9,633.0 L689.7,633.6 L688.6,634.2 L687.4,634.6 L686.2,635.0 L685.0,635.4 L683.8,635.7 L682.5,635.9 L681.3,636.0 L680.1,636.1 L678.9,636.1 L677.7,636.0 L676.6,635.9 L675.4,635.7 L674.3,635.4 L673.2,635.0 L672.1,634.6 L671.0,634.1 L670.0,633.6 L669.0,632.9 L668.1,632.3 L667.1,631.5 L666.3,630.7 L665.4,629.8 L664.6,628.9 L663.9,627.9 L663.2,626.9 L662.5,625.8 L661.9,624.7 L661.3,623.6 L660.7,622.4 L660.2,621.2 L659.8,619.9 L659.3,618.7 L659.0,617.4 L658.6,616.1 L658.3,614.7 L658.1,613.4 L657.8,612.0 L657.6,610.7 L657.5,609.3 L657.3,608.0 L657.2,606.6 L657.1,605.3 L657.0,603.9 L657.0,602.6 L657.0,601.3 L656.9,599.9 L656.9,598.6 L657.0,597.3 L657.0,596.0 L657.0,594.8 L657.1,593.5 L657.1,592.2 L657.2,591.0 L657.3,589.8 L657.4,588.6 L657.5,587.4 L657.5,586.2 L657.6,585.0 L657.7,583.8 L657.9,582.6 L658.0,581.4 L658.1,580.2 L658.2,579.1 L658.4,577.9 L658.5,576.7 L658.7,575.6 L658.9,574.4 L659.1,573.2 L659.3,572.0 L659.6,570.8 L659.8,569.7 L660.1,568.5 L660.4,567.3 L660.7,566.1 L661.1,564.8 L661.5,563.6 L661.9,562.4 L662.3,561.2 L662.8,560.0 L663.3,558.8 L663.9,557.6 L664.5,556.4 L665.1,555.2 L665.7,554.0 L666.4,552.9 L667.2,551.7 L667.9,550.6 L668.7,549.5 L669.6,548.4 L670.5,547.4 L671.4,546.3 L672.3,545.4 L673.3,544.4 L674.3,543.5 L675.3,542.7 L676.4,541.9 L677.4,541.1 L678.6,540.4 L679.7,539.8 L680.8,539.2 L682.0,538.7 L683.1,538.2 L684.3,537.8 L685.5,537.5 L686.7,537.3 L687.9,537.1 L689.1,537.0 L690.2,537.0Z" stroke="#0012ff" stroke-width="4.8"/>
<path d="M687.5,566.5 L688.2,566.6 L688.9,566.7 L689.6,566.8 L690.3,567.0 L691.0,567.2 L691.6,567.5 L692.3,567.8 L692.9,568.1 L693.5,568.4 L694.1,568.8 L694.6,569.3 L695.2,569.7 L695.7,570.2 L696.2,570.8 L696.7,571.3 L697.1,571.9 L697.6,572.5 L698.0,573.1 L698.4,573.7 L698.7,574.4 L699.1,575.1 L699.4,575.8 L699.7,576.5 L700.0,577.2 L700.2,577.9 L700.5,578.6 L700.7,579.4 L700.9,580.1 L701.1,580.9 L701.2,581.6 L701.4,582.4 L701.5,583.1 L701.6,583.9 L701.7,584.7 L701.8,585.4 L701.9,586.2 L701.9,586.9 L702.0,587.7 L702.0,588.4 L702.0,589.1 L702.1,589.9 L702.1,590.6 L702.1,591.3 L702.1,592.1 L702.1,592.8 L702.0,593.5 L702.0,594.2 L702.0,594.9 L702.0,595.6 L701.9,596.3 L701.9,597.0 L701.8,597.7 L701.7,598.4 L701.7,599.1 L701.6,599.8 L701.5,600.5 L701.4,601.2 L701.3,601.9 L701.1,602.6 L701.0,603.3 L700.8,604.0 L700.7,604.7 L700.5,605.4 L700.3,606.1 L700.1,606.9 L699.9,607.6 L699.6,608.3 L699.4,609.0 L699.1,609.7 L698.8,610.4 L698.5,611.1 L698.1,611.7 L697.7,612.4 L697.4,613.1 L697.0,613.8 L696.5,614.4 L696.1,615.1 L695.6,615.7 L695.1,616.3 L694.6,616.9 L694.1,617.5 L693.5,618.1 L693.0,618.6 L692.4,619.1 L691.8,619.6 L691.1,620.1 L690.5,620.5 L689.8,620.9 L689.2,621.3 L688.5,621.6 L687.8,621.9 L687.1,622.2 L686.4,622.5 L685.7,622.7 L685.0,622.8 L684.3,623.0 L683.6,623.1 L682.8,623.1 L682.1,623.1 L681.4,623.1 L680.7,623.0 L680.0,622.9 L679.3,622.8 L678.7,622.6 L678.0,622.3 L677.4,622.1 L676.7,621.8 L676.1,621.4 L675.5,621.1 L674.9,620.6 L674.4,620.2 L673.8,619.7 L673.3,619.2 L672.8,618.7 L672.3,618.1 L671.9,617.5 L671.4,616.9 L671.0,616.3 L670.6,615.6 L670.3,615.0 L669.9,614.3 L669.6,613.6 L669.3,612.9 L669.0,612.1 L668.7,611.4 L668.5,610.6 L668.3,609.9 L668.1,609.1 L667.9,608.4 L667.7,607.6 L667.6,606.8 L667.5,606.1 L667.3,605.3 L667.2,604.5 L667.1,603.8 L667.1,603.0 L667.0,602.3 L666.9,601.5 L666.9,600.8 L666.9,600.0 L666.8,599.3 L666.8,598.6 L666.8,597.8 L666.8,597.1 L666.8,596.4 L666.8,595.7 L666.8,595.0 L666.9,594.3 L666.9,593.6 L666.9,592.9 L667.0,592.2 L667.0,591.5 L667.1,590.8 L667.2,590.1 L667.3,589.4 L667.4,588.7 L667.5,588.0 L667.6,587.3 L667.7,586.7 L667.8,586.0 L668.0,585.3 L668.1,584.6 L668.3,583.9 L668.5,583.2 L668.7,582.5 L669.0,581.8 L669.2,581.1 L669.5,580.4 L669.7,579.8 L670.0,579.1 L670.4,578.4 L670.7,577.7 L671.1,577.0 L671.5,576.4 L671.9,575.7 L672.3,575.1 L672.8,574.5 L673.2,573.8 L673.7,573.2 L674.2,572.6 L674.8,572.1 L675.3,571.5 L675.9,571.0 L676.5,570.5 L677.1,570.0 L677.7,569.5 L678.4,569.1 L679.0,568.7 L679.7,568.3 L680.4,568.0 L681.1,567.7 L681.8,567.4 L682.5,567.1 L683.2,566.9 L683.9,566.8 L684.7,566.6 L685.4,566.5 L686.1,566.5 L686.8,566.5Z" stroke="#000080" stroke-width="4.8"/>
<path d="M792.8,672.1 L792.8,670.0 L792.9,668.0 L793.0,666.0 L793.1,664.0 L793.3,662.1 L793.6,660.1 L793.9,658.2 L794.2,656.2 L794.6,654.3 L795.0,652.4 L795.5,650.5 L796.0,648.6 L796.5,646.8 L797.1,644.9 L797.7,643.1 L798.3,641.2 L799.0,639.4 L799.7,637.6 L800.4,635.8 L801.2,634.0 L801.9,632.2 L802.7,630.4 L803.5,628.6 L804.4,626.8 L805.2,625.1 L806.1,623.3 L806.9,621.5 L807.8,619.8 L808.7,618.0 L809.6,616.3 L810.5,614.5 L811.4,612.8 L812.3,611.0 L813.2,609.3 L814.1,607.5 L815.0,605.8 L815.9,604.0 L816.9,602.3 L817.8,600.5 L818.7,598.8 L819.6,597.1 L820.5,595.3 L821.4,593.6 L822.3,591.8 L823.2,590.1 L824.1,588.4 L825.0,586.6 L825.9,584.9 L826.8,583.1 L827.8,581.4 L828.7,579.7 L829.6,577.9 L830.5,576.2 L831.4,574.5 L832.3,572.7 L833.2,571.0 L834.1,569.3 L835.0,567.5 L835.9,565.8 L836.8,564.1 L837.7,562.3 L838.6,560.6 L839.5,558.9 L840.4,557.1 L841.3,555.4 L842.2,553.7 L843.1,551.9 L844.0,550.2 L844.9,548.5 L845.8,546.7 L846.7,545.0 L847.6,543.3 L848.5,541.5 L849.4,539.8 L850.3,538.0 L851.2,536.3 L852.1,534.6 L853.0,532.8 L853.9,531.1 L854.8,529.4 L855.7,527.6 L856.6,525.9 L857.5,524.1 L858.4,522.4 L859.3,520.7 L860.2,518.9 L861.1,517.2 L862.0,515.4 L862.9,513.7 L863.7,511.9 L864.6,510.2 L865.5,508.5 L866.4,506.7 L867.3,505.0 L868.2,503.2 L869.1,501.5 L870.0,499.7 L870.8,498.0 L871.7,496.2 L872.6,494.4 L873.5,492.7 L874.4,490.9 L875.2,489.2 L876.1,487.4 L877.0,485.7 L877.9,483.9 L878.8,482.1 L879.6,480.4 L880.5,478.6 L881.4,476.8 L882.3,475.1 L883.2,473.3 L884.0,471.6 L884.9,469.8 L885.8,468.0 L886.7,466.3 L887.6,464.5 L888.5,462.7 L889.4,461.0 L890.3,459.2 L891.2,457.5 L892.1,455.7 L893.0,454.0 L893.9,452.2 L894.8,450.5 L895.7,448.7 L896.6,447.0 L897.6,445.3 L898.5,443.5 L899.4,441.8 L900.4,440.1 L901.3,438.3 L902.2,436.6 L903.2,434.9 L904.2,433.2 L905.1,431.5 L906.1,429.8 L907.1,428.0 L908.1,426.3 L909.0,424.7 L910.0,423.0 L911.1,421.3 L912.1,419.6 L913.1,417.9 L914.1,416.3 L915.1,414.6 L916.2,412.9 L917.2,411.3 L918.3,409.6 L919.4,408.0 L920.5,406.4 L921.5,404.7 L922.6,403.1 L923.7,401.5 L924.9,399.9 L926.0,398.3 L927.1,396.7 L928.3,395.1 L929.4,393.5 L930.6,392.0 L931.8,390.4 L933.0,388.9 L934.2,387.3 L935.4,385.8 L936.6,384.3 L937.9,382.7 L939.1,381.2 L940.4,379.7 L941.7,378.2 L942.9,376.8 L944.3,375.3 L945.6,373.8 L946.9,372.4 L948.3,371.0 L949.6,369.6 L951.0,368.2 L952.4,366.9 L953.9,365.6 L955.3,364.4 L956.8,363.1 L958.3,361.9 L959.9,360.8 L961.4,359.7 L963.0,358.7 L964.6,357.7 L966.3,356.7 L968.0,355.9 L969.7,355.0 L971.5,354.3 L973.2,353.6 L975.1,353.0 L976.9,352.4 L978.8,352.0 L980.8,351.6 L982.7,351.3 L984.8,351.0 L986.8,350.9 L988.9,350.8 L991.1,350.9" stroke="#800000" stroke-width="4.8"/>
<path d="M613.0,53.7 L613.0,107.8 M615.7,89.9 L613.0,107.8 L610.3,89.9 M622.4,53.7 L620.7,107.8 M623.9,90.2 L620.7,107.8 L618.6,89.7 M648.6,53.7 L641.9,106.8 M646.7,90.2 L641.9,106.8 L641.5,88.4 M689.7,53.7 L674.7,101.8 M682.0,88.0 L674.7,101.8 L677.3,83.9 M741.3,53.7 L717.6,90.6 M727.2,81.7 L717.6,90.6 L723.6,75.2 M798.6,53.7 L768.2,72.4 M779.2,70.4 L768.2,72.4 L777.3,62.0 M856.2,53.7 L823.5,51.2 M834.2,56.5 L823.5,51.2 L834.4,47.5 M908.2,53.7 L877.0,44.0 M886.8,51.5 L877.0,44.0 L887.8,42.9 M949.3,53.7 L921.0,42.0 M929.8,49.8 L921.0,42.0 L930.9,42.0 M976.2,53.7 L948.0,45.0 M956.9,51.8 L948.0,45.0 L957.7,44.0 M613.0,244.7 L613.0,297.2 M615.6,279.9 L613.0,297.2 L610.4,279.9 M622.4,244.7 L620.4,298.5 M623.7,281.0 L620.4,298.5 L618.4,280.5 M648.6,244.7 L639.9,296.7 M645.3,280.7 L639.9,296.7 L640.2,278.3 M689.7,244.7 L671.0,289.2 M679.4,277.1 L671.0,289.2 L675.0,271.9 M741.3,244.7 L711.6,268.6 M722.6,264.8 L711.6,268.6 L720.2,256.6 M798.6,244.7 L766.9,231.9 M776.7,240.5 L766.9,231.9 L778.0,231.8 M856.3,244.7 L838.4,199.4 M842.1,216.8 L838.4,199.4 L846.5,211.9 M908.2,244.7 L911.2,190.7 M907.5,208.1 L911.2,190.7 L912.9,208.9 M949.3,244.7 L971.7,204.4 M962.3,214.6 L971.7,204.4 L966.3,220.8 M976.2,244.7 L1004.0,232.0 M994.2,232.4 L1004.0,232.0 L995.5,240.0 M613.0,416.5 L613.0,469.7 M615.6,452.1 L613.0,469.7 L610.4,452.1 M622.4,416.5 L620.4,470.2 M623.7,452.8 L620.4,470.2 L618.4,452.2 M648.6,416.5 L639.9,469.2 M645.4,453.0 L639.9,469.2 L640.2,450.6 M689.7,416.5 L669.8,459.3 M678.5,447.9 L669.8,459.3 L674.2,442.4 M741.3,416.5 L708.9,418.6 M719.7,422.4 L708.9,418.6 L719.5,413.5 M798.6,416.5 L786.5,366.4 M788.0,384.6 L786.5,366.4 L793.0,381.3 M856.3,416.5 L864.1,364.5 M859.0,380.6 L864.1,364.5 L864.1,382.7 M908.2,416.5 L929.4,376.4 M920.4,386.7 L929.4,376.4 L924.4,392.5 M949.3,416.5 L979.2,394.3 M968.2,397.5 L979.2,394.3 L970.4,405.7 M976.2,416.5 L1008.0,409.0 M997.1,407.1 L1008.0,409.0 L997.9,415.8 M613.0,553.2 L613.0,606.6 M615.6,589.0 L613.0,606.6 L610.4,589.0 M622.4,553.2 L620.7,606.6 M623.9,589.2 L620.7,606.6 L618.6,588.7 M648.6,553.2 L642.9,606.6 M647.4,589.8 L642.9,606.6 L642.1,588.2 M689.7,553.2 L672.2,598.4 M680.2,585.9 L672.2,598.4 L675.7,581.1 M741.3,553.2 L743.7,499.1 M740.2,516.6 L743.7,499.1 L745.6,517.3 M798.6,553.2 L815.4,506.6 M807.6,519.7 L815.4,506.6 L812.2,524.3 M856.3,553.2 L878.0,513.3 M868.9,523.5 L878.0,513.3 L872.8,529.5 M908.2,553.2 L935.1,523.3 M924.7,529.5 L935.1,523.3 L927.7,536.9 M949.3,553.2 L920.7,578.4 M931.4,574.0 L920.7,578.4 L928.9,566.1 M976.2,553.2 L944.3,558.2 M955.1,560.9 L944.3,558.2 L954.6,552.2 M613.0,641.0 L613.0,694.0 M615.6,676.5 L613.0,694.0 L610.4,676.5 M622.4,641.0 L626.5,694.0 M627.8,675.9 L626.5,694.0 L622.5,677.1 M648.6,641.0 L666.5,694.0 M663.2,674.0 L666.5,694.0 L658.0,679.0 M689.7,640.7 L722.1,646.9 M711.7,640.4 L722.1,646.9 L711.1,649.3 M741.3,640.7 L770.2,616.5 M759.5,620.5 L770.2,616.5 L761.9,628.5 M798.6,640.7 L817.5,597.4 M809.1,609.1 L817.5,597.4 L813.4,614.3 M856.3,640.7 L823.5,637.2 M834.2,642.9 L823.5,637.2 L834.5,633.8 M908.2,640.7 L875.3,645.7 M886.4,648.6 L875.3,645.7 L885.9,639.5 M949.3,640.7 L916.4,644.4 M927.4,647.7 L916.4,644.4 L927.1,638.7 M976.2,640.7 L944.3,641.5 M954.9,645.6 L944.3,641.5 L954.8,636.8 M613.0,671.9 L613.0,690.0 M613.9,684.0 L613.0,690.0 L612.1,684.0 M622.4,671.9 L654.8,671.9 M644.1,667.4 L654.8,671.9 L644.1,676.4 M648.6,671.9 L681.0,671.9 M670.3,667.4 L681.0,671.9 L670.3,676.4 M689.7,671.9 L722.1,671.9 M711.4,667.4 L722.1,671.9 L711.4,676.4 M741.3,671.9 L769.4,671.9 M760.1,668.0 L769.4,671.9 L760.1,675.8 M798.6,671.9 L770.0,671.9 M779.4,675.8 L770.0,671.9 L779.4,668.0 M856.3,671.9 L823.5,671.9 M834.3,676.4 L823.5,671.9 L834.3,667.4 M908.2,671.9 L875.3,671.9 M886.2,676.4 L875.3,671.9 L886.2,667.4 M949.3,671.9 L916.4,671.9 M927.3,676.4 L916.4,671.9 L927.3,667.4 M976.2,671.9 L944.3,671.9 M954.8,676.3 L944.3,671.9 L954.8,667.5" stroke="#000" stroke-width="1.35"/>
</g>
<path d="M613.1,676.4 v-6.5 M613.1,49.7 v6.5 M609.9,671.7 h6.5 M986.7,671.7 h-6.5 M687.6,676.4 v-6.5 M687.6,49.7 v6.5 M609.9,547.4 h6.5 M986.7,547.4 h-6.5 M762.2,676.4 v-6.5 M762.2,49.7 v6.5 M609.9,423.1 h6.5 M986.7,423.1 h-6.5 M836.8,676.4 v-6.5 M836.8,49.7 v6.5 M609.9,298.8 h6.5 M986.7,298.8 h-6.5 M911.3,676.4 v-6.5 M911.3,49.7 v6.5 M609.9,174.5 h6.5 M986.7,174.5 h-6.5 M986.7,676.4 v-6.5 M986.7,49.7 v6.5 M609.9,49.7 h6.5 M986.7,49.7 h-6.5" stroke="#262626" stroke-width="1.1" fill="none"/>
<rect x="609.9" y="49.7" width="376.8" height="626.7" fill="none" stroke="#262626" stroke-width="1.15"/>
<rect x="451.3" y="49.7" width="38.4" height="626.7" fill="url(#jet)" stroke="#262626" stroke-width="1"/>
<path d="M489.7,112.4 h-6 M489.7,175.0 h-6 M489.7,237.7 h-6 M489.7,300.4 h-6 M489.7,363.0 h-6 M489.7,425.7 h-6 M489.7,488.4 h-6 M489.7,551.1 h-6 M489.7,613.7 h-6" stroke="#262626" stroke-width="1" fill="none"/>
<rect x="1001.4" y="49.7" width="38.4" height="626.7" fill="url(#jet)" stroke="#262626" stroke-width="1"/>
<path d="M1039.8,139.2 h-6 M1039.8,228.8 h-6 M1039.8,318.3 h-6 M1039.8,407.8 h-6 M1039.8,497.3 h-6 M1039.8,586.9 h-6" stroke="#262626" stroke-width="1" fill="none"/>
<g font-family="Liberation Serif, serif" fill="#262626" font-size="34">
<text x="64.2" y="719" text-anchor="middle">0</text>
<text x="613.1" y="719" text-anchor="middle">0</text>
<text x="49" y="683.7" text-anchor="end">0</text>
<text x="597.5" y="683.7" text-anchor="end">0</text>
<text x="138.2" y="719" text-anchor="middle">1</text>
<text x="687.6" y="719" text-anchor="middle">1</text>
<text x="49" y="559.4" text-anchor="end">1</text>
<text x="597.5" y="559.4" text-anchor="end">1</text>
<text x="212.2" y="719" text-anchor="middle">2</text>
<text x="762.2" y="719" text-anchor="middle">2</text>
<text x="49" y="435.1" text-anchor="end">2</text>
<text x="597.5" y="435.1" text-anchor="end">2</text>
<text x="286.2" y="719" text-anchor="middle">3</text>
<text x="836.8" y="719" text-anchor="middle">3</text>
<text x="49" y="310.8" text-anchor="end">3</text>
<text x="597.5" y="310.8" text-anchor="end">3</text>
<text x="360.2" y="719" text-anchor="middle">4</text>
<text x="911.3" y="719" text-anchor="middle">4</text>
<text x="49" y="186.5" text-anchor="end">4</text>
<text x="597.5" y="186.5" text-anchor="end">4</text>
<text x="434.2" y="719" text-anchor="middle">5</text>
<text x="985.9" y="719" text-anchor="middle">5</text>
<text x="49" y="62.2" text-anchor="end">5</text>
<text x="597.5" y="62.2" text-anchor="end">5</text>
</g>
<g font-family="Liberation Serif, serif" fill="#262626" font-size="29.2">
<text x="499.5" y="60.1">12</text>
<text x="499.5" y="122.8">11</text>
<text x="499.5" y="185.4">10</text>
<text x="499.5" y="248.1">9</text>
<text x="499.5" y="310.8">8</text>
<text x="499.5" y="373.4">7</text>
<text x="499.5" y="436.1">6</text>
<text x="499.5" y="498.8">5</text>
<text x="499.5" y="561.5">4</text>
<text x="499.5" y="624.1">3</text>
<text x="499.5" y="686.8">2</text>
<text x="1049.5" y="60.2">0</text>
<text x="1049.5" y="149.7">-0.002</text>
<text x="1049.5" y="239.3">-0.004</text>
<text x="1049.5" y="328.8">-0.006</text>
<text x="1049.5" y="418.3">-0.008</text>
<text x="1049.5" y="507.8">-0.01</text>
<text x="1049.5" y="597.4">-0.012</text>
<text x="1049.5" y="686.9">-0.014</text>
<text y="36.3"><tspan x="489.5" font-size="40" dy="5.8">×</tspan><tspan x="512.8" dy="-5.8" font-size="29.2">10</tspan><tspan x="542.3" font-size="23.8" dy="-13.8">-3</tspan></text>
</g>
<g font-family="Liberation Serif, serif" fill="#000">
<text y="24.3" font-size="34.5"><tspan x="0" textLength="152.5" lengthAdjust="spacingAndGlyphs">Linearized</tspan><tspan x="165.5">:</tspan><tspan x="189.5" font-style="italic">ϵ</tspan><tspan x="205.5" dy="5.3" font-size="24.5" font-style="italic">F</tspan><tspan x="233" dy="-2" font-size="34.5" textLength="28" lengthAdjust="spacingAndGlyphs">=</tspan><tspan x="269.5" dy="-3.3" textLength="43.5" lengthAdjust="spacingAndGlyphs">0.2</tspan><tspan x="325.5">;</tspan><tspan x="346" font-style="italic">t</tspan><tspan x="367.5" dy="3.3" textLength="28" lengthAdjust="spacingAndGlyphs">=</tspan><tspan x="404.5" dy="-3.3" textLength="50.5" lengthAdjust="spacingAndGlyphs">100</tspan></text>
<text x="723.2" y="31" font-size="37" textLength="149" lengthAdjust="spacingAndGlyphs">Nonlinear</text>
<text x="12.3" y="369.5" font-size="49" font-style="italic" textLength="21.5" lengthAdjust="spacingAndGlyphs" stroke="#fff" stroke-width="0.6">z</text>
<text x="307.5" y="741.5" font-size="49" font-style="italic" textLength="21.5" lengthAdjust="spacingAndGlyphs" stroke="#fff" stroke-width="1.1">r</text>
</g>
</svg>
</body></html>
